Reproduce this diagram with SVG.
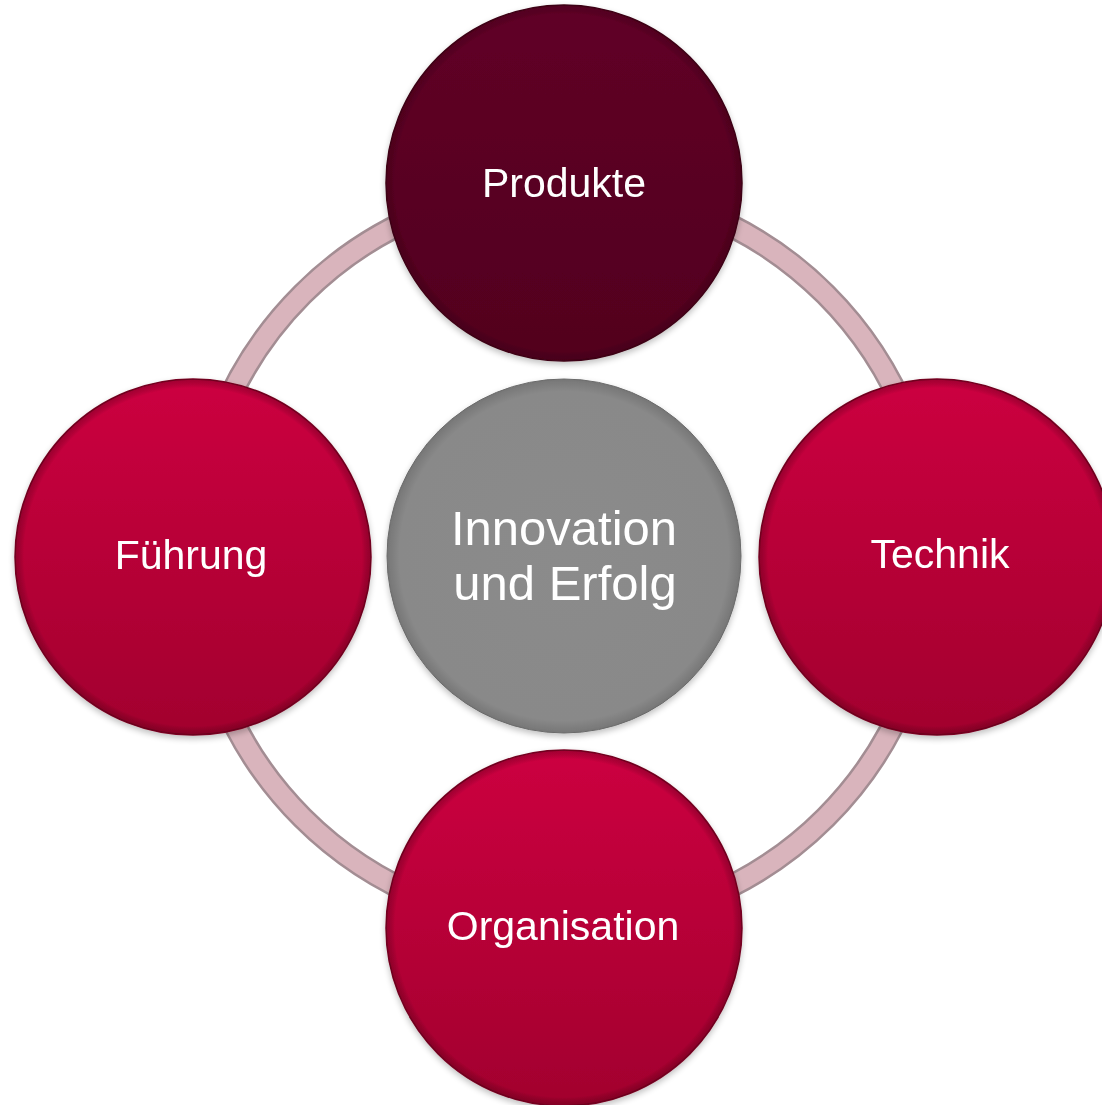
<svg xmlns="http://www.w3.org/2000/svg" width="1102" height="1105" viewBox="0 0 1102 1105">
  <style>
    .label { font-family: "Liberation Sans", Arial, sans-serif; fill: #ffffff; text-anchor: middle; }
    .small { font-size: 41px; }
    .big { font-size: 49px; }
  </style>
  <defs>
    <linearGradient id="crimson" x1="0" y1="0" x2="0" y2="1">
      <stop offset="0" stop-color="#cc0640"/>
      <stop offset="1" stop-color="#a2002e"/>
    </linearGradient>
    <linearGradient id="maroon" x1="0" y1="0" x2="0" y2="1">
      <stop offset="0" stop-color="#600626"/>
      <stop offset="1" stop-color="#52001e"/>
    </linearGradient>
    <radialGradient id="rimRed" cx="0.5" cy="0.5" r="0.5">
      <stop offset="0.95" stop-color="#000" stop-opacity="0"/>
      <stop offset="1" stop-color="#3a0010" stop-opacity="0.3"/>
    </radialGradient>
    <radialGradient id="grey" cx="0.5" cy="0.5" r="0.5">
      <stop offset="0" stop-color="#8b8b8b"/>
      <stop offset="0.93" stop-color="#898989"/>
      <stop offset="1" stop-color="#767676"/>
    </radialGradient>
    <filter id="shadow" x="-10%" y="-10%" width="120%" height="125%">
      <feGaussianBlur in="SourceAlpha" stdDeviation="3"/>
      <feOffset dy="3"/>
      <feComponentTransfer><feFuncA type="linear" slope="0.25"/></feComponentTransfer>
      <feMerge><feMergeNode/><feMergeNode in="SourceGraphic"/></feMerge>
    </filter>
  </defs>

  <rect width="1102" height="1105" fill="#ffffff"/>

  <!-- connecting ring behind the nodes -->
  <g id="connectors">
    <circle cx="564" cy="556" r="370" fill="none" stroke="#a38d93" stroke-width="24"/>
    <circle cx="564" cy="556" r="370" fill="none" stroke="#d9b4bc" stroke-width="19"/>
  </g>

  <g id="node-produkte" filter="url(#shadow)">
    <circle cx="564" cy="183" r="178" fill="url(#maroon)" stroke="#3e0014" stroke-width="1.5"/>
    <circle cx="564" cy="183" r="178" fill="url(#rimRed)"/>
    <text class="label small" x="564" y="197">Produkte</text>
  </g>

  <g id="node-fuehrung" filter="url(#shadow)">
    <circle cx="193" cy="557" r="178" fill="url(#crimson)" stroke="#7a0022" stroke-width="1.5"/>
    <circle cx="193" cy="557" r="178" fill="url(#rimRed)"/>
    <text class="label small" x="191" y="569">Führung</text>
  </g>

  <g id="node-technik" filter="url(#shadow)">
    <circle cx="937" cy="557" r="178" fill="url(#crimson)" stroke="#7a0022" stroke-width="1.5"/>
    <circle cx="937" cy="557" r="178" fill="url(#rimRed)"/>
    <text class="label small" x="940" y="568">Technik</text>
  </g>

  <g id="node-organisation" filter="url(#shadow)">
    <circle cx="564" cy="928" r="178" fill="url(#crimson)" stroke="#7a0022" stroke-width="1.5"/>
    <circle cx="564" cy="928" r="178" fill="url(#rimRed)"/>
    <text class="label small" x="563" y="940">Organisation</text>
  </g>

  <g id="node-center" filter="url(#shadow)">
    <circle cx="564" cy="556" r="177" fill="url(#grey)" stroke="#6a6a6a" stroke-width="1"/>
    <text class="label big" x="564" y="545">Innovation</text>
    <text class="label big" x="565" y="600">und Erfolg</text>
  </g>
</svg>
